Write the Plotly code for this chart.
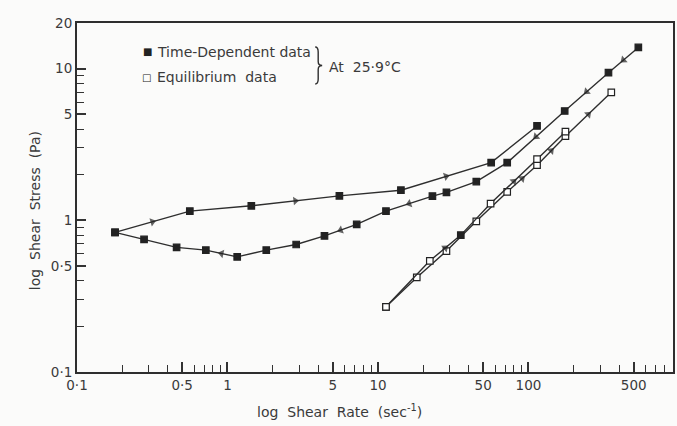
import math
import plotly.graph_objects as go

# ---------------- data ----------------
# Time-dependent data, ascending (upper) branch
td_up_x = [0.179, 0.562, 1.44, 5.54, 14.2, 56.5, 114]
td_up_y = [0.832, 1.15, 1.247, 1.45, 1.58, 2.40, 4.19]
td_up_arrows = [0, 2, 4]

# Time-dependent data, descending (lower) branch, in order of travel
td_down_x = [537, 340, 174, 72.2, 45.0, 28.5, 23.0, 11.3, 7.22, 4.41, 2.86, 1.81, 1.16, 0.718, 0.459, 0.279, 0.179]
td_down_y = [13.8, 9.41, 5.26, 2.40, 1.80, 1.53, 1.445, 1.15, 0.94, 0.79, 0.693, 0.636, 0.574, 0.636, 0.663, 0.748, 0.832]
td_down_arrows = [0, 1, 2, 6, 8, 12]

# Equilibrium data, two nearly coincident runs
eq1_x = [11.3, 18.1, 28.5, 45.0, 72.2, 114, 176, 355]
eq1_y = [0.269, 0.420, 0.627, 0.985, 1.54, 2.31, 3.59, 6.98]
eq1_arrows = [4, 5, 6]

eq2_x = [11.3, 22.1, 35.5, 56.0, 114, 176]
eq2_y = [0.269, 0.541, 0.799, 1.29, 2.53, 3.84]
eq2_filled = [False, False, True, False, False, False]
eq2_arrows = [1, 3]

x_tickvals = [0.1, 0.5, 1, 5, 10, 50, 100, 500]
x_ticktext = ["0·1", "0·5", "1", "5", "10", "50", "100", "500"]
y_tickvals = [0.1, 0.5, 1, 5, 10, 20]
y_ticktext = ["0·1", "0·5", "1", "5", "10", "20"]

# ---------------- styling ----------------
INK = "#2e2e2e"
TXT = "#3a3a3a"
LINE_W = 1.4
FONT = "DejaVu Sans"
W, H = 677, 426
ML, MR, MT, MB = 77, 2, 23, 54

fig = go.Figure()


def add_series(xs, ys, filled, name, group):
    colors = ["#222222" if f else "white" for f in filled]
    fig.add_trace(go.Scatter(
        x=xs, y=ys, mode="lines+markers", name=name, legendgroup=group,
        showlegend=False,
        line=dict(color=INK, width=LINE_W),
        marker=dict(symbol="square", size=6.5, color=colors,
                    line=dict(color="#222222", width=1.2)),
    ))


add_series(eq1_x, eq1_y, [False] * len(eq1_x), "Equilibrium data", "eq")
add_series(eq2_x, eq2_y, eq2_filled, "Equilibrium data", "eq")
add_series(td_up_x, td_up_y, [True] * len(td_up_x), "Time-Dependent data", "td")
add_series(td_down_x, td_down_y, [True] * len(td_down_x), "Time-Dependent data", "td")

# direction arrows: placed half-way (in log space) along chosen segments
ax, ay, asz = [], [], []
for xs, ys, idx in [(td_up_x, td_up_y, td_up_arrows),
                    (td_down_x, td_down_y, td_down_arrows),
                    (eq1_x, eq1_y, eq1_arrows),
                    (eq2_x, eq2_y, eq2_arrows)]:
    for i in idx:
        mx = 10 ** ((math.log10(xs[i]) + math.log10(xs[i + 1])) / 2)
        my = 10 ** ((math.log10(ys[i]) + math.log10(ys[i + 1])) / 2)
        ax += [xs[i], mx]
        ay += [ys[i], my]
        asz += [0, 7.5]

fig.add_trace(go.Scatter(
    x=ax, y=ay, mode="markers", showlegend=False, hoverinfo="skip",
    marker=dict(symbol="triangle-up", size=asz, color="#222222",
                angleref="previous", line=dict(width=0)),
))

x_right = 10 ** ((W - MR - ML) / 151 - 1)

# minor tick positions: every integer multiple within each decade
x_minor = [k * 10 ** e for e in range(-1, 3) for k in range(1, 10)]
y_minor = [k * 10 ** e for e in range(-1, 2) for k in range(1, 10)] + [20]

fig.update_xaxes(type="log", range=[-1, math.log10(x_right)], tickmode="array",
                 tickvals=x_tickvals, ticktext=x_ticktext,
                 showgrid=False, zeroline=False, showline=True, linecolor=INK, linewidth=2, mirror=True,
                 ticks="inside", ticklen=10, tickwidth=1.5, tickcolor="#333333",
                 tickfont=dict(family=FONT, size=13.5, color=TXT),
                 minor=dict(tickmode="array", tickvals=x_minor, ticks="inside",
                            ticklen=7, tickwidth=1.3, tickcolor="#333333", showgrid=False))
fig.update_yaxes(type="log", range=[-1, math.log10(20)], tickmode="array",
                 tickvals=y_tickvals, ticktext=y_ticktext,
                 showgrid=False, zeroline=False, showline=True, linecolor=INK, linewidth=2, mirror=True,
                 ticks="inside", ticklen=9, tickwidth=1.5, tickcolor="#333333",
                 tickfont=dict(family=FONT, size=13.5, color=TXT),
                 minor=dict(tickmode="array", tickvals=y_minor, ticks="inside",
                            ticklen=7, tickwidth=1.3, tickcolor="#333333", showgrid=False))


def px(xp):
    return (xp - ML) / (W - ML - MR)


def py(yp):
    return (H - MB - yp) / (H - MT - MB)


NB = "\u00a0"
annots = [
    # axis titles
    dict(x=px(340), y=py(411), text=f"log{NB}{NB}Shear{NB}{NB}Rate{NB}{NB}(sec<sup>-1</sup>)",
         font=dict(size=14, family=FONT, color=TXT), xanchor="center", yanchor="middle"),
    dict(x=px(35), y=py(211), text=f"log{NB}{NB}Shear{NB}{NB}Stress{NB}{NB}(Pa)", textangle=-90,
         font=dict(size=14, family=FONT, color=TXT), xanchor="center", yanchor="middle"),
    # legend keys and labels
    dict(x=px(147.3), y=py(51.5), text="■", font=dict(size=10, family=FONT, color="#222222"),
         xanchor="center", yanchor="middle"),
    dict(x=px(147.0), y=py(77.3), text="□", font=dict(size=10, family=FONT, color="#222222"),
         xanchor="center", yanchor="middle"),
    dict(x=px(155), y=py(51.7), text=f"Time-Dependent{NB}data",
         font=dict(size=14, family=FONT, color=TXT), xanchor="left", yanchor="middle"),
    dict(x=px(155), y=py(77), text=f"Equilibrium{NB}{NB}data",
         font=dict(size=14, family=FONT, color=TXT), xanchor="left", yanchor="middle"),
    dict(x=px(328), y=py(66.5), text=f"At{NB}{NB}25·9°C",
         font=dict(size=14, family=FONT, color=TXT), xanchor="left", yanchor="middle"),
]
for a in annots:
    a.update(xref="paper", yref="paper", showarrow=False)
fig.update_layout(annotations=annots)

# brace joining the two legend entries
bx0, bx1, bt, bb = 316.0, 323.0, 47.0, 84.0
bm = (bt + bb) / 2
bxm = (bx0 + bx1) / 2 - 0.5
path = (f"M {px(bx0)},{py(bt)} Q {px(bxm)},{py(bt)} {px(bxm)},{py(bt + 5)} "
        f"L {px(bxm)},{py(bm - 4)} Q {px(bxm)},{py(bm)} {px(bx1)},{py(bm)} "
        f"Q {px(bxm)},{py(bm)} {px(bxm)},{py(bm + 4)} "
        f"L {px(bxm)},{py(bb - 5)} Q {px(bxm)},{py(bb)} {px(bx0)},{py(bb)}")
fig.add_shape(type="path", path=path, xref="paper", yref="paper",
              line=dict(color=INK, width=1.4))

fig.update_layout(
    width=W, height=H,
    margin=dict(l=ML, r=MR, t=MT, b=MB, pad=0),
    paper_bgcolor="#fbfbfa", plot_bgcolor="#fbfbfa",
    showlegend=False,
    font=dict(family=FONT, color=TXT),
)

fig.write_html("out.html")
